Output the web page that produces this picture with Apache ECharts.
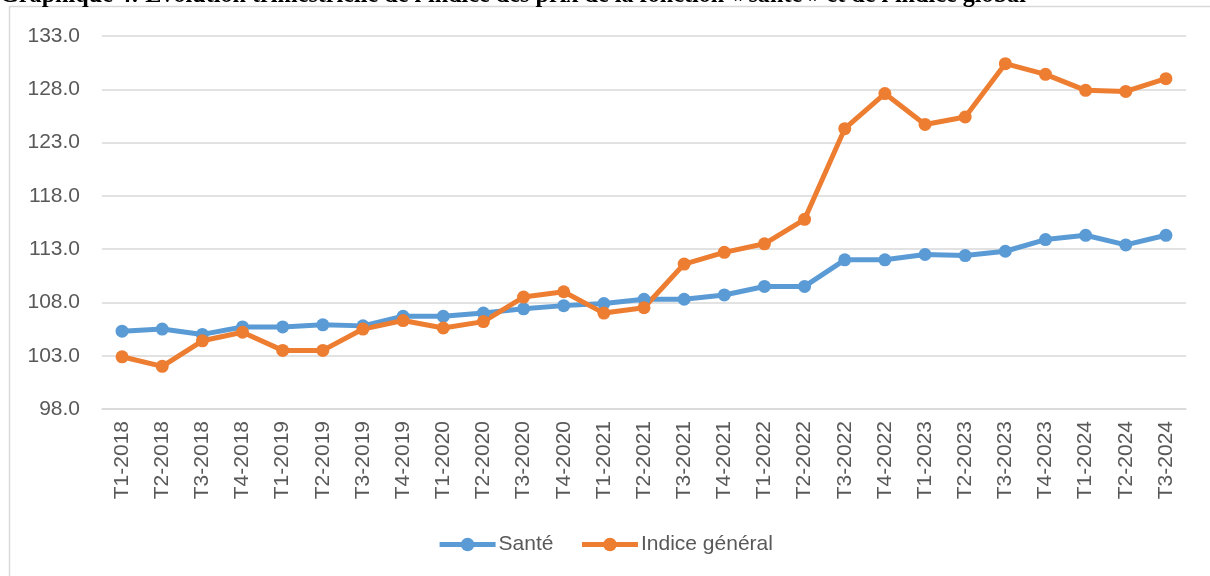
<!DOCTYPE html>
<html>
<head>
<meta charset="utf-8">
<script src="https://cdn.jsdelivr.net/npm/echarts@6/dist/echarts.min.js"></script>
<style>
html,body{margin:0;padding:0;background:#fff;}
#chart{width:1210px;height:576px;}
</style>
</head>
<body>
<div id="chart"></div>
<script>
const categories = ["T1-2018","T2-2018","T3-2018","T4-2018","T1-2019","T2-2019","T3-2019","T4-2019","T1-2020","T2-2020","T3-2020","T4-2020","T1-2021","T2-2021","T3-2021","T4-2021","T1-2022","T2-2022","T3-2022","T4-2022","T1-2023","T2-2023","T3-2023","T4-2023","T1-2024","T2-2024","T3-2024"];
const sante = [105.3,105.5,105.0,105.7,105.7,105.9,105.8,106.7,106.7,107.0,107.4,107.7,107.9,108.3,108.3,108.7,109.5,109.5,112.0,112.0,112.5,112.4,112.8,113.9,114.3,113.4,114.3];
const indiceGeneral = [102.9,102.0,104.4,105.2,103.5,103.5,105.5,106.3,105.6,106.2,108.5,109.0,107.0,107.5,111.6,112.7,113.5,115.8,124.3,127.6,124.7,125.4,130.4,129.4,127.9,127.8,129.0];
const yTicks = {min: 98, max: 133, interval: 5};
const seriesNames = ["Santé", "Indice général"];
const titleText = "Graphique 4: Evolution trimestrielle de l'indice des prix de la fonction « santé » et de l'indice global";

const chart = echarts.init(document.getElementById('chart'), null, {renderer: 'canvas'});
const labelFont = 'Liberation Sans';
chart.setOption({
  animation: false,
  backgroundColor: '#ffffff',
  color: ['#5B9BD5', '#ED7D31'],
  graphic: [
    {type: 'rect', shape: {x: 9.5, y: 6.5, width: 1400, height: 800}, style: {fill: 'none', stroke: '#d9d9d9', lineWidth: 1.5}, silent: true},
    {type: 'text', x: 0, y: -4, style: {text: titleText, font: 'bold 24.2px "Liberation Serif"', fill: '#000', verticalAlign: 'middle'}, silent: true}
  ],
  grid: {left: 102, right: 24, top: 36, bottom: 167, containLabel: false},
  legend: {
    data: seriesNames,
    bottom: 16,
    left: 'center',
    itemWidth: 56,
    itemHeight: 17,
    itemGap: 26,
    lineStyle: {width: 5},
    textStyle: {fontFamily: labelFont, fontSize: 21, color: '#595959', padding: [0, 0, 0, -2]}
  },
  xAxis: {
    type: 'category',
    data: categories,
    boundaryGap: true,
    axisLine: {show: true, lineStyle: {color: '#d9d9d9', width: 1.5}},
    axisTick: {show: false},
    axisLabel: {rotate: 90, interval: 0, margin: 12, color: '#595959', fontFamily: labelFont, fontSize: 21}
  },
  yAxis: {
    type: 'value',
    min: yTicks.min,
    max: yTicks.max,
    interval: yTicks.interval,
    axisLine: {show: false},
    axisTick: {show: false},
    splitLine: {lineStyle: {color: '#d9d9d9', width: 1.5}},
    axisLabel: {margin: 22, color: '#595959', fontFamily: labelFont, fontSize: 21, formatter: v => v.toFixed(1)}
  },
  series: [
    {name: seriesNames[0], type: 'line', data: sante, symbol: 'circle', symbolSize: 13, lineStyle: {width: 5}, itemStyle: {color: '#5B9BD5'}},
    {name: seriesNames[1], type: 'line', data: indiceGeneral, symbol: 'circle', symbolSize: 13, lineStyle: {width: 5}, itemStyle: {color: '#ED7D31'}}
  ]
});
</script>
</body>
</html>
